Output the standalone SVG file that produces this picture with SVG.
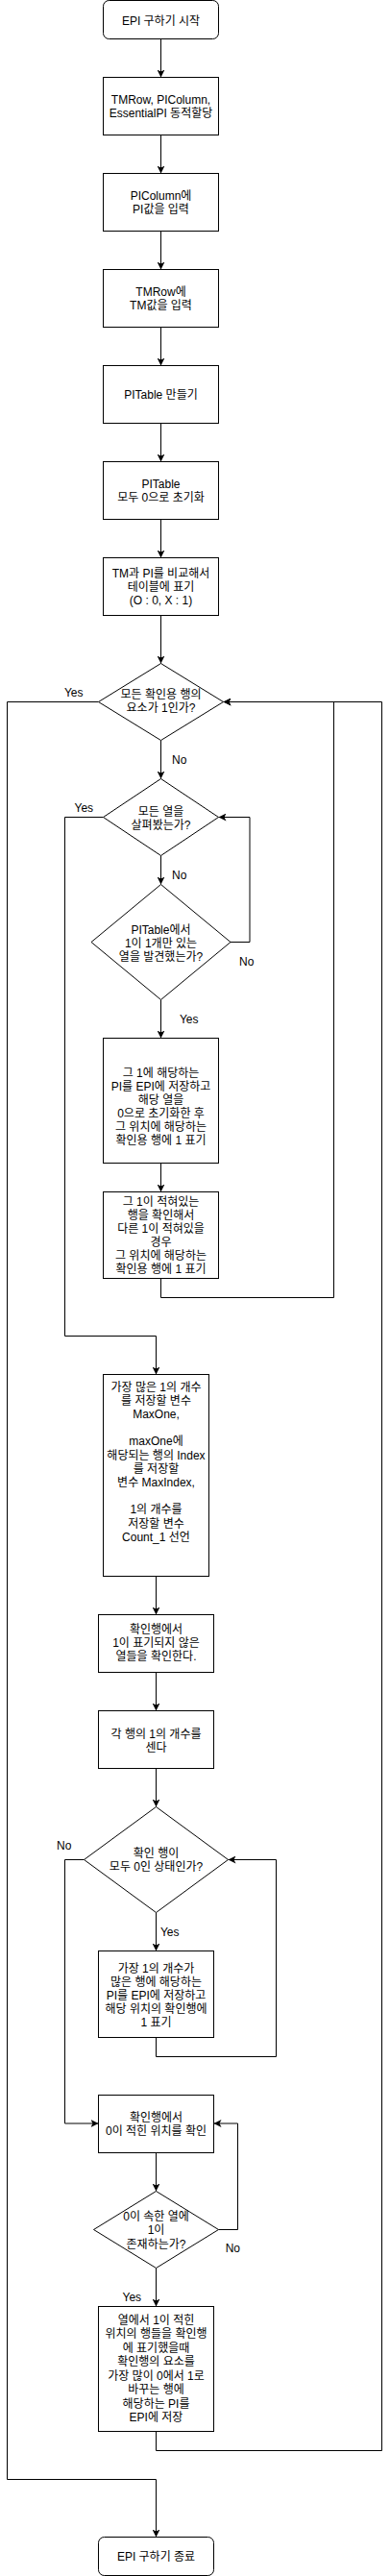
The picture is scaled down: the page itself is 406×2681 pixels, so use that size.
<svg xmlns="http://www.w3.org/2000/svg" width="406" height="2681" viewBox="0 0 406 2681">
<style>
.n{fill:#fff;stroke:#000;stroke-width:1}
.c{fill:none;stroke:#000;stroke-width:1}
.t{font-family:"Liberation Sans","Noto Sans CJK KR",sans-serif;font-size:12px;fill:#000;text-anchor:middle}
.l{font-family:"Liberation Sans","Noto Sans CJK KR",sans-serif;font-size:12px;fill:#000;text-anchor:middle}
</style>
<defs>
<marker id="a" viewBox="0 0 8 8" markerWidth="8" markerHeight="8" refX="8" refY="4" orient="auto" markerUnits="userSpaceOnUse">
<path d="M0,0 L8,4 L0,8 L2,4 Z" fill="#000"/>
</marker>
</defs>
<rect width="406" height="2681" fill="#fff"/>
<g id="connectors">
<path class="c" marker-end="url(#a)" d="M167.5,40.5 V80.5"/>
<path class="c" marker-end="url(#a)" d="M167.5,140.5 V180.5"/>
<path class="c" marker-end="url(#a)" d="M167.5,240.5 V280.5"/>
<path class="c" marker-end="url(#a)" d="M167.5,340.5 V380.5"/>
<path class="c" marker-end="url(#a)" d="M167.5,440.5 V480.5"/>
<path class="c" marker-end="url(#a)" d="M167.5,540.5 V580.5"/>
<path class="c" marker-end="url(#a)" d="M167.5,640.5 V690.5"/>
<path class="c" marker-end="url(#a)" d="M167.5,770.5 V810.5"/>
<path class="c" marker-end="url(#a)" d="M167.5,890.5 V920.5"/>
<path class="c" marker-end="url(#a)" d="M167.5,1040.5 V1080.5"/>
<path class="c" marker-end="url(#a)" d="M167.5,1210.5 V1240.5"/>
<path class="c" marker-end="url(#a)" d="M167.5,1330.5 V1350.5 H347.5 V730.5 H232.5"/>
<path class="c" marker-end="url(#a)" d="M240,980.5 H260 V850.5 H227.5"/>
<path class="c" marker-end="url(#a)" d="M107.5,850.5 H67.5 V1390.5 H162.5 V1430.5"/>
<path class="c" marker-end="url(#a)" d="M102.5,730.5 H7.5 V2580.5 H162.5 V2640.5"/>
<path class="c" marker-end="url(#a)" d="M162.5,1640.5 V1680.5"/>
<path class="c" marker-end="url(#a)" d="M162.5,1740.5 V1780.5"/>
<path class="c" marker-end="url(#a)" d="M162.5,1840.5 V1880.5"/>
<path class="c" marker-end="url(#a)" d="M162.5,1990.5 V2030.5"/>
<path class="c" marker-end="url(#a)" d="M162.5,2120.5 V2140.5 H287.5 V1935.5 H237.5"/>
<path class="c" marker-end="url(#a)" d="M87.5,1935.5 H67.5 V2210 H102.5"/>
<path class="c" marker-end="url(#a)" d="M162.5,2240.5 V2280.5"/>
<path class="c" marker-end="url(#a)" d="M227.5,2320.5 H247.5 V2210 H222.5"/>
<path class="c" marker-end="url(#a)" d="M162.5,2360.5 V2400.5"/>
<path class="c" marker-end="url(#a)" d="M162.5,2530.5 V2550.5 H397.5 V730.5 H232.5"/>
<text class="l" x="76.7" y="725">Yes</text>
<text class="l" x="186.7" y="794.5">No</text>
<text class="l" x="87.3" y="845">Yes</text>
<text class="l" x="186.7" y="915">No</text>
<text class="l" x="256.7" y="1005">No</text>
<text class="l" x="196.7" y="1064.5">Yes</text>
<text class="l" x="66.7" y="1924.5">No</text>
<text class="l" x="176.7" y="2015">Yes</text>
<text class="l" x="242.3" y="2344">No</text>
<text class="l" x="137.3" y="2395">Yes</text>
</g>
<g id="start">
<rect class="n" x="107.5" y="0.5" width="120" height="40" rx="6"/>
<text class="t" x="167.5" y="25.5">EPI 구하기 시작</text>
</g>
<g id="alloc">
<rect class="n" x="107.5" y="80.5" width="120" height="60"/>
<text class="t" x="167.5" y="108">TMRow, PIColumn,</text>
<text class="t" x="167.5" y="122">EssentialPI 동적할당</text>
</g>
<g id="picolumn">
<rect class="n" x="107.5" y="180.5" width="120" height="60"/>
<text class="t" x="167.5" y="208">PIColumn에</text>
<text class="t" x="167.5" y="222">PI값을 입력</text>
</g>
<g id="tmrow">
<rect class="n" x="107.5" y="280.5" width="120" height="60"/>
<text class="t" x="167.5" y="308">TMRow에</text>
<text class="t" x="167.5" y="322">TM값을 입력</text>
</g>
<g id="pitable">
<rect class="n" x="107.5" y="380.5" width="120" height="60"/>
<text class="t" x="167.5" y="415">PITable 만들기</text>
</g>
<g id="init">
<rect class="n" x="107.5" y="480.5" width="120" height="60"/>
<text class="t" x="167.5" y="508">PITable</text>
<text class="t" x="167.5" y="522">모두 0으로 초기화</text>
</g>
<g id="compare">
<rect class="n" x="107.5" y="580.5" width="120" height="60"/>
<text class="t" x="167.5" y="601">TM과 PI를 비교해서</text>
<text class="t" x="167.5" y="615">테이블에 표기</text>
<text class="t" x="167.5" y="629">(O : 0, X : 1)</text>
</g>
<g id="d1">
<path class="n" d="M167.5,690.5 L232.5,730.5 L167.5,770.5 L102.5,730.5 Z"/>
<text class="t" x="167.5" y="727">모든 확인용 행의</text>
<text class="t" x="167.5" y="741">요소가 1인가?</text>
</g>
<g id="d2">
<path class="n" d="M167.5,810.5 L227.5,850.5 L167.5,890.5 L107.5,850.5 Z"/>
<text class="t" x="167.5" y="849">모든 열을</text>
<text class="t" x="167.5" y="863">살펴봤는가?</text>
</g>
<g id="d3">
<path class="n" d="M167.5,920.5 L240,980.5 L167.5,1040.5 L95,980.5 Z"/>
<text class="t" x="167.5" y="972">PITable에서</text>
<text class="t" x="167.5" y="986">1이 1개만 있는</text>
<text class="t" x="167.5" y="1000">열을 발견했는가?</text>
</g>
<g id="save1">
<rect class="n" x="107.5" y="1080.5" width="120" height="130"/>
<text class="t" x="167.5" y="1121">그 1에 해당하는</text>
<text class="t" x="167.5" y="1135">PI를 EPI에 저장하고</text>
<text class="t" x="167.5" y="1149">해당 열을</text>
<text class="t" x="167.5" y="1163">0으로 초기화한 후</text>
<text class="t" x="167.5" y="1177">그 위치에 해당하는</text>
<text class="t" x="167.5" y="1191">확인용 행에 1 표기</text>
</g>
<g id="mark1">
<rect class="n" x="107.5" y="1240.5" width="120" height="90"/>
<text class="t" x="167.5" y="1254.5">그 1이 적혀있는</text>
<text class="t" x="167.5" y="1268.5">행을 확인해서</text>
<text class="t" x="167.5" y="1282.5">다른 1이 적혀있을</text>
<text class="t" x="167.5" y="1296.5">경우</text>
<text class="t" x="167.5" y="1310.5">그 위치에 해당하는</text>
<text class="t" x="167.5" y="1324.5">확인용 행에 1 표기</text>
</g>
<g id="vars">
<rect class="n" x="107.5" y="1430.5" width="110" height="210"/>
<text class="t" x="162.5" y="1447.5">가장 많은 1의 개수</text>
<text class="t" x="162.5" y="1461.7">를 저장할 변수</text>
<text class="t" x="162.5" y="1475.9">MaxOne,</text>
<text class="t" x="162.5" y="1504.3">maxOne에</text>
<text class="t" x="162.5" y="1518.5">해당되는 행의 Index</text>
<text class="t" x="162.5" y="1532.7">를 저장할</text>
<text class="t" x="162.5" y="1546.9">변수 MaxIndex,</text>
<text class="t" x="162.5" y="1575.3">1의 개수를</text>
<text class="t" x="162.5" y="1589.5">저장할 변수</text>
<text class="t" x="162.5" y="1603.7">Count_1 선언</text>
</g>
<g id="check">
<rect class="n" x="102.5" y="1680.5" width="120" height="60"/>
<text class="t" x="162.5" y="1700">확인행에서</text>
<text class="t" x="162.5" y="1714">1이 표기되지 않은</text>
<text class="t" x="162.5" y="1728">열들을 확인한다.</text>
</g>
<g id="count">
<rect class="n" x="102.5" y="1780.5" width="120" height="60"/>
<text class="t" x="162.5" y="1808.5">각 행의 1의 개수를</text>
<text class="t" x="162.5" y="1822.5">센다</text>
</g>
<g id="d4">
<path class="n" d="M162.5,1880.5 L237.5,1935.5 L162.5,1990.5 L87.5,1935.5 Z"/>
<text class="t" x="162.5" y="1932.5">확인 행이</text>
<text class="t" x="162.5" y="1946.5">모두 0인 상태인가?</text>
</g>
<g id="save2">
<rect class="n" x="102.5" y="2030.5" width="120" height="90"/>
<text class="t" x="162.5" y="2052.5">가장 1의 개수가</text>
<text class="t" x="162.5" y="2066.5">많은 행에 해당하는</text>
<text class="t" x="162.5" y="2080.5">PI를 EPI에 저장하고</text>
<text class="t" x="162.5" y="2094.5">해당 위치의 확인행에</text>
<text class="t" x="162.5" y="2108.5">1 표기</text>
</g>
<g id="zero">
<rect class="n" x="102.5" y="2180.5" width="120" height="60"/>
<text class="t" x="162.5" y="2208">확인행에서</text>
<text class="t" x="162.5" y="2222">0이 적힌 위치를 확인</text>
</g>
<g id="d5">
<path class="n" d="M162.5,2280.5 L227.5,2320.5 L162.5,2360.5 L97.5,2320.5 Z"/>
<text class="t" x="162.5" y="2311">0이 속한 열에</text>
<text class="t" x="162.5" y="2325">1이</text>
<text class="t" x="162.5" y="2339.5">존재하는가?</text>
</g>
<g id="save3">
<rect class="n" x="102.5" y="2400.5" width="120" height="130"/>
<text class="t" x="162.5" y="2418.5">열에서 1이 적힌</text>
<text class="t" x="162.5" y="2433">위치의 행들을 확인행</text>
<text class="t" x="162.5" y="2447.5">에 표기했을때</text>
<text class="t" x="162.5" y="2462">확인행의 요소를</text>
<text class="t" x="162.5" y="2476.5">가장 많이 0에서 1로</text>
<text class="t" x="162.5" y="2491">바꾸는 행에</text>
<text class="t" x="162.5" y="2505.5">해당하는 PI를</text>
<text class="t" x="162.5" y="2520">EPI에 저장</text>
</g>
<g id="end">
<rect class="n" x="102.5" y="2640.5" width="120" height="40" rx="6"/>
<text class="t" x="162.5" y="2665">EPI 구하기 종료</text>
</g>
</svg>
